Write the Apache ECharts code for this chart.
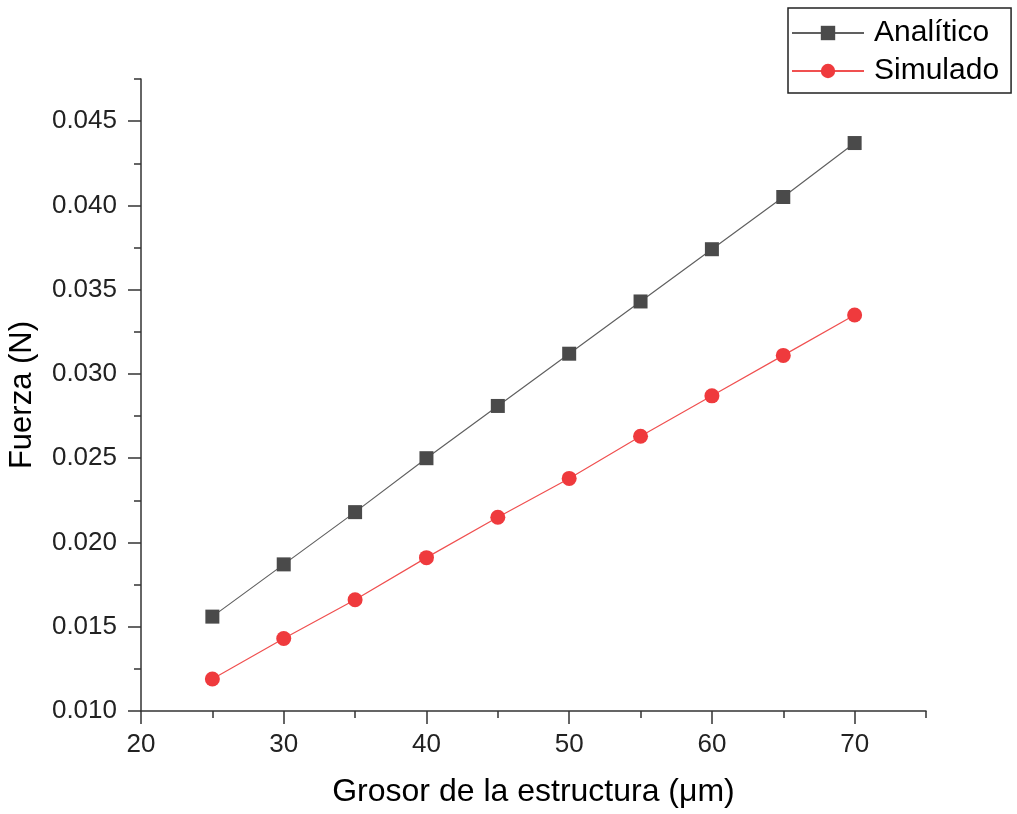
<!DOCTYPE html>
<html>
<head>
<meta charset="utf-8">
<script src="https://cdn.jsdelivr.net/npm/echarts@6/dist/echarts.min.js"></script>
<style>html,body{margin:0;padding:0;background:#fff}#c{width:1017px;height:814px}</style>
</head>
<body>
<div id="c"></div>
<script>
const thickness = [25, 30, 35, 40, 45, 50, 55, 60, 65, 70];
const analitico = [0.0156, 0.0187, 0.0218, 0.0250, 0.0281, 0.0312, 0.0343, 0.0374, 0.0405, 0.0437];
const simulado  = [0.0119, 0.0143, 0.0166, 0.0191, 0.0215, 0.0238, 0.0263, 0.0287, 0.0311, 0.0335];
const xMajor = [20, 30, 40, 50, 60, 70];
const xMinor = [25, 35, 45, 55, 65, 75];
const yMajor = [0.010, 0.015, 0.020, 0.025, 0.030, 0.035, 0.040, 0.045];
const yMinor = [0.0125, 0.0175, 0.0225, 0.0275, 0.0325, 0.0375, 0.0425, 0.0475];

const FONT = 'Liberation Sans';
const AX = '#333333';
const chart = echarts.init(document.getElementById('c'), null, {renderer: 'canvas'});
const grid = {left: 141, right: 91, top: 79, bottom: 103, containLabel: false, outerBoundsMode: 'none'};

function xAxisCfg(major) {
  return {
    type: 'value', min: 20, max: 75, gridIndex: 0, position: 'bottom',
    name: major ? 'Grosor de la estructura (μm)' : '',
    nameLocation: 'middle', nameGap: 65,
    nameTextStyle: {fontFamily: FONT, fontSize: 32, color: '#000'},
    axisLine: {show: major, lineStyle: {color: AX, width: 1.5}},
    axisTick: {show: true, inside: false, length: major ? 13 : 7,
      customValues: major ? xMajor : xMinor, lineStyle: {color: AX, width: 1.5}},
    axisLabel: {show: major, customValues: xMajor, margin: 21,
      fontFamily: FONT, fontSize: 26, color: '#222'},
    splitLine: {show: false}
  };
}
function yAxisCfg(major) {
  return {
    type: 'value', min: 0.010, max: 0.0475, gridIndex: 0, position: 'left',
    name: major ? 'Fuerza (N)' : '',
    nameLocation: 'middle', nameGap: 103,
    nameTextStyle: {fontFamily: FONT, fontSize: 31, color: '#000'},
    axisLine: {show: major, lineStyle: {color: AX, width: 1.5}},
    axisTick: {show: true, inside: false, length: major ? 13 : 7,
      customValues: major ? yMajor : yMinor, lineStyle: {color: AX, width: 1.5}},
    axisLabel: {show: major, customValues: yMajor, margin: 24,
      fontFamily: FONT, fontSize: 26, color: '#222',
      formatter: v => v.toFixed(3)},
    splitLine: {show: false}
  };
}

chart.setOption({
  animation: false,
  backgroundColor: '#ffffff',
  grid: grid,
  legend: {
    orient: 'vertical', left: 788, top: 8,
    padding: [10, 12, 7, 3], itemGap: 8,
    itemWidth: 72, itemHeight: 18,
    borderColor: '#222', borderWidth: 1.5,
    textStyle: {fontFamily: FONT, fontSize: 30, color: '#000', padding: [0, 0, 0, 5]},
    data: ['Analítico', 'Simulado']
  },
  xAxis: [xAxisCfg(true), xAxisCfg(false)],
  yAxis: [yAxisCfg(true), yAxisCfg(false)],
  series: [
    {
      name: 'Analítico', type: 'line', xAxisIndex: 0, yAxisIndex: 0,
      data: thickness.map((x, i) => [x, analitico[i]]),
      symbol: 'rect', symbolSize: 14,
      itemStyle: {color: '#4a4a4a'},
      lineStyle: {color: '#606060', width: 1.2}
    },
    {
      name: 'Simulado', type: 'line', xAxisIndex: 0, yAxisIndex: 0,
      data: thickness.map((x, i) => [x, simulado[i]]),
      symbol: 'circle', symbolSize: 15,
      itemStyle: {color: '#ef3a3d'},
      lineStyle: {color: '#f05050', width: 1.2}
    }
  ]
});
</script>
</body>
</html>
